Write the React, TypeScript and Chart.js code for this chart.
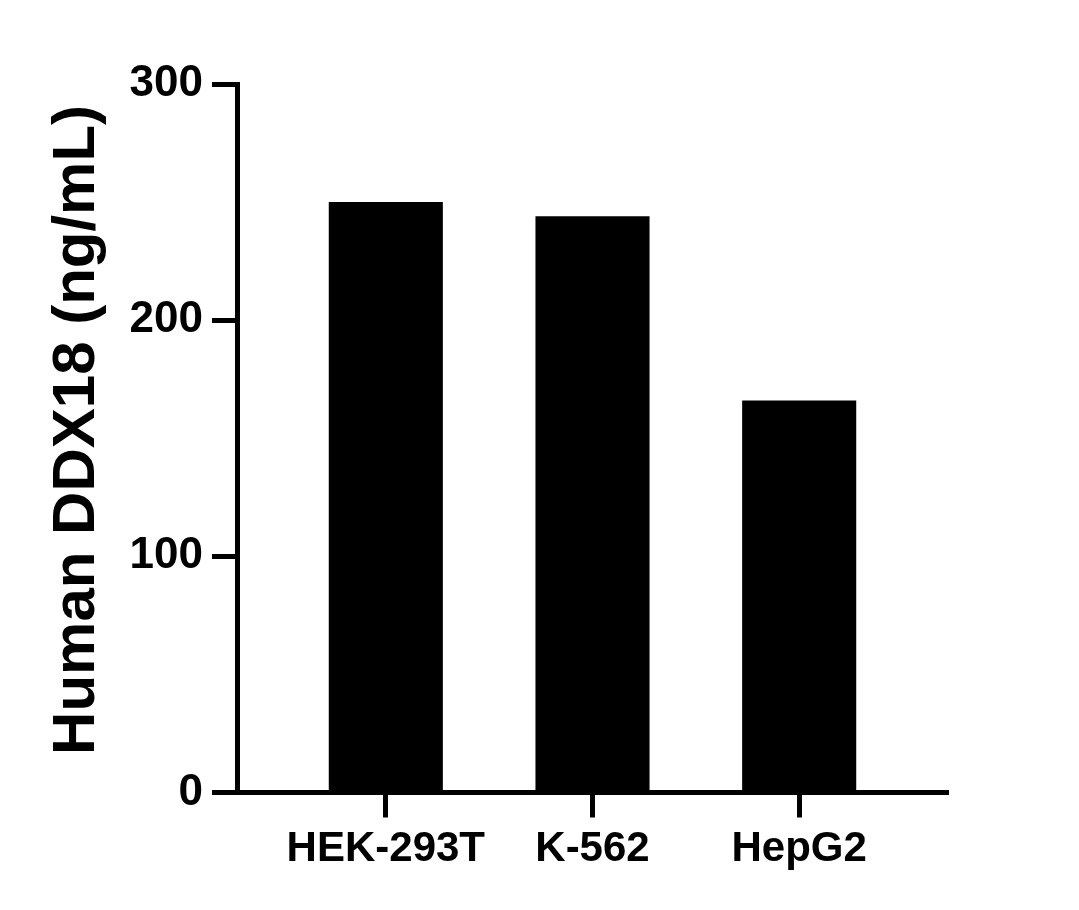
import React, { useEffect, useRef } from "react";
import { Chart, registerables } from "chart.js";

Chart.register(...registerables);

const categories = ["HEK-293T", "K-562", "HepG2"];
const values = [250, 244, 166];
const yTicks = [0, 100, 200, 300];
const yTitle = " Human DDX18 (ng/mL)";

const FONT = "'Liberation Sans', Arial, Helvetica, sans-serif";

export default function App() {
  const ref = useRef<HTMLCanvasElement | null>(null);

  useEffect(() => {
    if (!ref.current) return;
    const chart = new Chart(ref.current, {
      type: "bar",
      data: {
        datasets: [
          {
            data: values.map((v, i) => ({ x: i, y: v })),
            backgroundColor: "#000000",
            borderWidth: 0,
            categoryPercentage: 1,
            barPercentage: 0.552,
          },
        ],
      },
      options: {
        animation: false,
        responsive: false,
        maintainAspectRatio: false,
        devicePixelRatio: 1,
        layout: { padding: { top: 84, right: 131, left: 0, bottom: 0 } },
        plugins: {
          legend: { display: false },
          tooltip: { enabled: false },
          title: { display: false },
        },
        scales: {
          x: {
            type: "linear",
            min: -0.72,
            max: 2.72,
            offset: false,
            afterBuildTicks: (s: any) => {
              s.ticks = categories.map((_, i) => ({ value: i }));
            },
            afterFit: (s: any) => {
              s.height = 117.5;
            },
            ticks: {
              autoSkip: false,
              maxRotation: 0,
              minRotation: 0,
              padding: 7,
              color: "#000000",
              font: { family: FONT, size: 42, weight: "bold" },
              callback: (v: any) => categories[Number(v)] ?? "",
            },
            grid: {
              drawOnChartArea: false,
              drawTicks: true,
              tickLength: 25,
              tickWidth: 5,
              tickColor: "#000000",
              offset: false,
            },
            border: { display: true, color: "#000000", width: 5 },
          },
          y: {
            type: "linear",
            min: 0,
            max: 300,
            afterBuildTicks: (s: any) => {
              s.ticks = yTicks.map((v) => ({ value: v }));
            },
            afterFit: (s: any) => {
              s.width = 237;
            },
            ticks: {
              padding: 9,
              color: "#000000",
              font: { family: FONT, size: 44, weight: "bold" },
            },
            grid: {
              drawOnChartArea: false,
              drawTicks: true,
              tickLength: 25,
              tickWidth: 5,
              tickColor: "#000000",
            },
            border: { display: true, color: "#000000", width: 5 },
            title: {
              display: true,
              text: yTitle,
              color: "#000000",
              font: { family: FONT, size: 60, weight: "bold" },
              padding: { top: 41, bottom: 0 },
            },
          },
        },
      },
    } as any);
    return () => chart.destroy();
  }, []);

  return (
    <div style={{ position: "absolute", left: 0, top: 0, width: 1079, height: 910, background: "#ffffff" }}>
      <canvas ref={ref} width={1079} height={910} style={{ width: 1079, height: 910, display: "block" }} />
    </div>
  );
}
